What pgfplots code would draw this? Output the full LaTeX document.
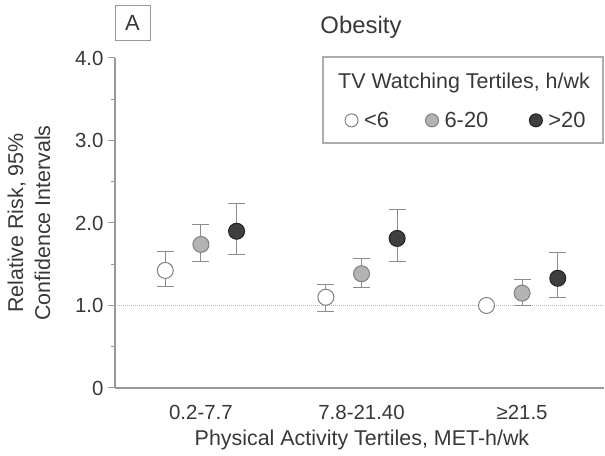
\documentclass[border=0pt]{standalone}
\usepackage{pgfplots}
\pgfplotsset{compat=1.18}
\usepackage{fontspec}
\setmainfont{Liberation Sans}
\definecolor{txt}{HTML}{383838}
\definecolor{axisgray}{HTML}{999999}
\definecolor{errcol}{HTML}{8C8C8C}
\definecolor{edgeA}{HTML}{808080}
\definecolor{fillB}{HTML}{B3B3B3}
\definecolor{fillC}{HTML}{3F3F3F}
\definecolor{edgeC}{HTML}{222222}
\begin{document}
\begin{tikzpicture}[x=1bp,y=1bp]
\begin{axis}[
  at={(0,0)}, anchor=south west,
  scale only axis, width=489bp, height=330bp,
  xmin=0.465, xmax=3.51, ymin=0, ymax=4,
  axis x line*=bottom, axis y line*=left,
  axis line style={draw=axisgray, line width=1.1bp, -},
  xtick={1,2,3}, xticklabels={0.2-7.7,7.8-21.40,≥21.5},
  x tick style={draw=none},
  ytick={0,1,2,3,4}, yticklabels={0,1.0,2.0,3.0,4.0},
  minor ytick={0.5,1.5,2.5,3.5},
  tick align=outside,
  major tick length=7bp, minor tick length=4bp,
  y tick style={draw=axisgray, line width=1bp},
  tick label style={font=\fontsize{20.5}{23}\selectfont, text=txt},
  xticklabel style={yshift=-7bp},
  yticklabel style={xshift=-1bp},
  xlabel={Physical Activity Tertiles, MET-h/wk},
  ylabel={Relative Risk, 95\%\\Confidence Intervals},
  label style={font=\fontsize{21.5}{27}\selectfont, text=txt},
  xlabel style={at={(axis description cs:0.505,-0.158)}, anchor=center},
  ylabel style={at={(axis description cs:-0.176,0.5)}, anchor=center, align=center},
  clip=false,
  legend columns=3,
  legend style={at={(axis description cs:0.470,0.811)}, anchor=west, draw=none, fill=none,
    inner sep=0pt, font=\fontsize{22}{24}\selectfont, text=txt,
    nodes={inner xsep=2bp, inner ysep=0bp},
    /tikz/every even column/.append style={column sep=33bp}},
  legend image code/.code={\draw[#1, only marks, mark size=6.5bp] plot coordinates {(0bp,0bp)};},
]
\addplot[densely dotted, color=axisgray!70, line width=1bp, forget plot] coordinates {(0.465,1) (3.51,1)};
\addplot[only marks, mark=*, mark size=8bp, mark options={fill=white, draw=edgeA, line width=1bp},
  error bars/.cd, y dir=both, y explicit,
  error bar style={errcol, line width=1bp},
  error mark options={rotate=90, errcol, mark size=8.5bp, line width=1bp}]
  table[x=x, y=y, y error plus=ep, y error minus=em] {
x y ep em
0.778 1.425 0.225 0.195
1.778 1.10 0.16 0.17
2.778 1.00 0 0
};
\addlegendentry{\rule{4bp}{0pt}<6\rule{1.5bp}{0pt}}
\addplot[only marks, mark=*, mark size=8bp, mark options={fill=fillB, draw=edgeA, line width=1bp},
  error bars/.cd, y dir=both, y explicit,
  error bar style={errcol, line width=1bp},
  error mark options={rotate=90, errcol, mark size=8.5bp, line width=1bp}]
  table[x=x, y=y, y error plus=ep, y error minus=em] {
x y ep em
1 1.74 0.236 0.205
2 1.385 0.19 0.17
3 1.15 0.17 0.15
};
\addlegendentry{\rule{4bp}{0pt}6-20\rule{6bp}{0pt}}
\addplot[only marks, mark=*, mark size=8bp, mark options={fill=fillC, draw=edgeC, line width=1bp},
  error bars/.cd, y dir=both, y explicit,
  error bar style={errcol, line width=1bp},
  error mark options={rotate=90, errcol, mark size=8.5bp, line width=1bp}]
  table[x=x, y=y, y error plus=ep, y error minus=em] {
x y ep em
1.222 1.90 0.34 0.28
2.222 1.813 0.35 0.28
3.222 1.33 0.31 0.23
};
\addlegendentry{\rule{4bp}{0pt}>20}
\end{axis}
\node[font=\fontsize{24}{26}\selectfont, text=txt] at (246,361) {Obesity};
\draw[axisgray, line width=0.9bp] (0,348) rectangle (35,383);
\node[font=\fontsize{22}{24}\selectfont, text=txt] at (17.5,365.5) {A};
\draw[axisgray!80, line width=1.2bp] (208,245) rectangle (488,331);
\node[anchor=west, inner sep=0pt, font=\fontsize{21.5}{24}\selectfont, text=txt] at (223,305) {TV Watching Tertiles, h/wk};
\pgfresetboundingbox
\path[use as bounding box] (-115,-68) rectangle (490,388);
\end{tikzpicture}
\end{document}
